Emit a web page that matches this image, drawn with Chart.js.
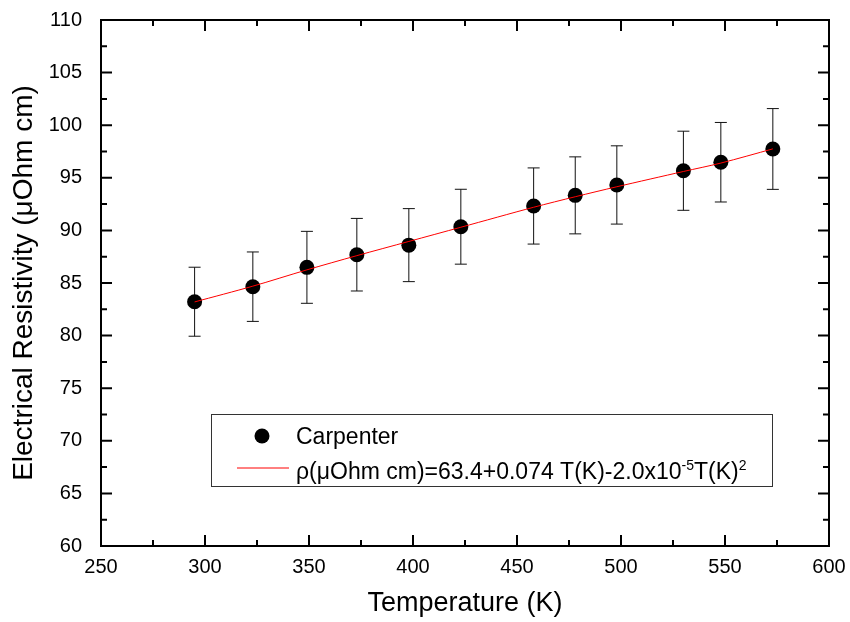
<!DOCTYPE html>
<html>
<head>
<meta charset="utf-8">
<script src="https://cdn.jsdelivr.net/npm/chart.js@4.4.0/dist/chart.umd.min.js"></script>
<style>
  body { margin: 0; background: #fff; }
</style>
</head>
<body>
<canvas id="grafico" width="850" height="622"></canvas>
<script>
// datos
const temperaturas = [295, 323, 349, 373, 398, 423, 458, 478, 498, 530, 548, 573];
const resistividad = [83.22, 84.65, 86.49, 87.69, 88.6, 90.35, 92.32, 93.33, 94.32, 95.67, 96.48, 97.74];
const errores = [3.28, 3.3, 3.42, 3.45, 3.47, 3.56, 3.62, 3.66, 3.72, 3.76, 3.78, 3.84];
const ajuste = [83.2, 84.7, 86.25, 87.6, 88.95, 90.3, 92.2, 93.2, 94.15, 95.6, 96.4, 97.75];
const ejeX = { min: 250, max: 600, paso: 50 };
const ejeY = { min: 60, max: 110, paso: 5 };

const fuente = 'Liberation Sans, Arial, sans-serif';

// barras de error (antes de los puntos)
const barrasError = {
  id: 'barrasError',
  beforeDatasetsDraw(chart) {
    const ctx = chart.ctx, x = chart.scales.x, y = chart.scales.y;
    ctx.save();
    ctx.strokeStyle = '#111';
    ctx.lineWidth = 1;
    temperaturas.forEach((t, i) => {
      const px = x.getPixelForValue(t);
      const arriba = y.getPixelForValue(resistividad[i] + errores[i]);
      const abajo = y.getPixelForValue(resistividad[i] - errores[i]);
      ctx.beginPath();
      ctx.moveTo(px, arriba); ctx.lineTo(px, abajo);
      ctx.moveTo(px - 6, arriba); ctx.lineTo(px + 6, arriba);
      ctx.moveTo(px - 6, abajo); ctx.lineTo(px + 6, abajo);
      ctx.stroke();
    });
    ctx.restore();
  }
};

// marco con marcas hacia dentro en los cuatro lados
const marco = {
  id: 'marco',
  afterDatasetsDraw(chart) {
    const { ctx, chartArea: a } = chart;
    const x = chart.scales.x, y = chart.scales.y;
    ctx.save();
    ctx.strokeStyle = '#000';
    ctx.lineWidth = 2;
    ctx.strokeRect(a.left, a.top, a.right - a.left, a.bottom - a.top);
    ctx.beginPath();
    for (let v = ejeX.min; v <= ejeX.max; v += ejeX.paso / 2) {
      const largo = (v - ejeX.min) % ejeX.paso === 0 ? 11 : 6;
      const px = x.getPixelForValue(v);
      ctx.moveTo(px, a.bottom); ctx.lineTo(px, a.bottom - largo);
      ctx.moveTo(px, a.top); ctx.lineTo(px, a.top + largo);
    }
    for (let v = ejeY.min; v <= ejeY.max; v += ejeY.paso / 2) {
      const largo = (v - ejeY.min) % ejeY.paso === 0 ? 11 : 6;
      const py = y.getPixelForValue(v);
      ctx.moveTo(a.left, py); ctx.lineTo(a.left + largo, py);
      ctx.moveTo(a.right, py); ctx.lineTo(a.right - largo, py);
    }
    ctx.stroke();
    ctx.restore();
  }
};

// leyenda en caja, con superindices
const leyenda = {
  id: 'leyenda',
  afterDraw(chart) {
    const ctx = chart.ctx;
    ctx.save();
    ctx.strokeStyle = '#333';
    ctx.lineWidth = 1;
    ctx.strokeRect(211.5, 414.5, 561, 72);

    ctx.fillStyle = '#000';
    ctx.beginPath();
    ctx.arc(262, 436, 7.5, 0, Math.PI * 2);
    ctx.fill();

    ctx.strokeStyle = 'red';
    ctx.beginPath();
    ctx.moveTo(237, 468); ctx.lineTo(289, 468);
    ctx.stroke();

    ctx.fillStyle = '#000';
    ctx.textBaseline = 'alphabetic';
    ctx.font = '23px ' + fuente;
    ctx.fillText('Carpenter', 296, 444);

    const partes = [
      ['ρ(μOhm cm)=63.4+0.074 T(K)-2.0x10', false],
      ['-5', true],
      ['T(K)', false],
      ['2', true]
    ];
    let cx = 296;
    partes.forEach(([txt, sup]) => {
      ctx.font = (sup ? '14px ' : '23px ') + fuente;
      ctx.fillText(txt, cx, sup ? 470 : 479);
      cx += ctx.measureText(txt).width;
    });
    ctx.restore();
  }
};

const ctx = document.getElementById('grafico').getContext('2d');
const grafico = new Chart(ctx, {
  type: 'scatter',
  data: {
    datasets: [
      {
        label: 'ajuste',
        data: temperaturas.map((t, i) => ({ x: t, y: ajuste[i] })),
        showLine: true,
        borderColor: 'red',
        borderWidth: 1,
        pointRadius: 0,
        tension: 0.3,
        order: 0
      },
      {
        label: 'Carpenter',
        data: temperaturas.map((t, i) => ({ x: t, y: resistividad[i] })),
        backgroundColor: '#000',
        borderWidth: 0,
        pointRadius: 7.5,
        order: 1
      }
    ]
  },
  options: {
    responsive: false,
    animation: false,
    layout: { padding: { top: 20, right: 21, left: 0, bottom: 0 } },
    plugins: {
      legend: { display: false },
      tooltip: { enabled: false }
    },
    scales: {
      x: {
        type: 'linear',
        min: ejeX.min,
        max: ejeX.max,
        grid: { display: false },
        border: { display: false },
        ticks: { stepSize: ejeX.paso, padding: 1, color: '#000', font: { family: fuente, size: 20 } },
        title: {
          display: true,
          text: 'Temperature (K)',
          color: '#000',
          font: { family: fuente, size: 27 },
          padding: { top: 0, bottom: 2 }
        },
        afterFit(scale) {
          scale.height = 76;
          scale.paddingLeft = 0;
          scale.paddingRight = 0;
        }
      },
      y: {
        min: ejeY.min,
        max: ejeY.max,
        grid: { display: false },
        border: { display: false },
        ticks: { stepSize: ejeY.paso, padding: 11, color: '#000', font: { family: fuente, size: 20 } },
        title: {
          display: true,
          text: 'Electrical Resistivity (μOhm cm)',
          color: '#000',
          font: { family: fuente, size: 28 },
          padding: { top: 7, bottom: 0 }
        },
        afterFit(scale) {
          scale.width = 101;
          scale.paddingTop = 0;
          scale.paddingBottom = 0;
        }
      }
    }
  },
  plugins: [barrasError, marco, leyenda]
});
</script>
</body>
</html>
